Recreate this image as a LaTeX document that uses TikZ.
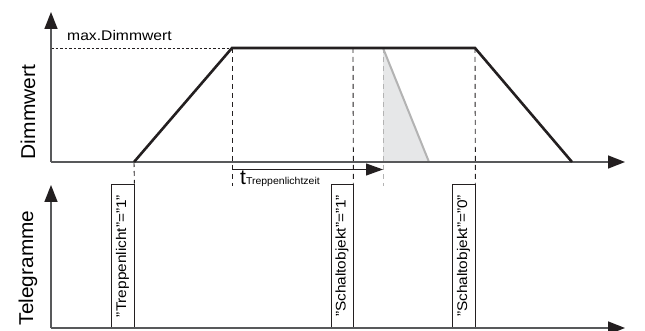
\documentclass[tikz,border=0pt]{standalone}
\usepackage{fontspec}
\setmainfont{Liberation Sans}
\usetikzlibrary{arrows.meta}
\definecolor{axisgray}{HTML}{58595B}
\definecolor{inkblack}{HTML}{231F20}
\definecolor{lightfill}{HTML}{E6E7E8}
\definecolor{midgray}{HTML}{B3B3B3}
\tikzset{
  axisline/.style={draw=axisgray, line width=1.6pt},
  axishead/.style={-{Triangle[length=17pt,width=13pt,color=inkblack,fill=inkblack]}},
  curve/.style={draw=inkblack, line width=2.6pt, line join=miter},
  vdash/.style={draw=inkblack, line width=0.9pt, dash pattern=on 5pt off 4pt},
  hdash/.style={draw=inkblack, line width=0.8pt, dash pattern=on 2.5pt off 2pt},
  graydash/.style={draw=midgray, line width=0.9pt, dash pattern=on 5pt off 4pt},
  telebox/.style={draw=inkblack, line width=0.8pt, rotate=90, minimum width=144pt,
    inner sep=0pt, font=\fontsize{14}{14}\selectfont},
  axislabel/.style={rotate=90, inner sep=0pt, font=\fontsize{20}{20}\selectfont}
}
\begin{document}
\begin{tikzpicture}[x=1pt,y=-1pt]
\useasboundingbox (0,0) rectangle (645,331);
% coordinates
\coordinate (O1) at (51,162);
\coordinate (Y1) at (51,12);
\coordinate (X1) at (625,162);
\coordinate (O2) at (51,328);
\coordinate (Y2) at (51,185);
\coordinate (X2) at (625,328);
\coordinate (M) at (51,48);
\coordinate (A) at (134,162);
\coordinate (B) at (232,48);
\coordinate (Bb) at (232,186);
\coordinate (S1) at (353,48);
\coordinate (C) at (475,48);
\coordinate (D) at (572,162);
\coordinate (G1) at (383,48);
\coordinate (G2) at (429,162);
\coordinate (G3) at (383,162);
\coordinate (Gb) at (383,186);
\coordinate (T0) at (232,169.5);
\coordinate (T1) at (383,169.5);

% gray triangle
\fill[lightfill] (G1) -- (G2) -- (G3) -- cycle;
\draw[midgray, line width=2pt] (G1) -- (G2);

% telegram boxes
\node[telebox, minimum height=23pt] (tb1) at (122.5,256) {\scalebox{1.1}[1]{"Treppenlicht"="1"}};
\node[telebox, minimum height=22pt] (tb2) at (342,256) {\scalebox{1.1}[1]{"Schaltobjekt"="1"}};
\node[telebox, minimum height=23pt] (tb3) at (463.5,256) {\scalebox{1.1}[1]{"Schaltobjekt"="0"}};

% dashed guides
\draw[hdash] (M) -- (B);
\draw[vdash] (A) -- (tb1.south east);
\draw[vdash] (B) -- (Bb);
\draw[vdash] (S1) -- (tb2.south east);
\draw[vdash] (C) -- (tb3.south east);
\draw[graydash] (G1) -- (Gb);

% axes
\draw[axisline, axishead] (O1) -- (Y1);
\draw[axisline, axishead] (O1) -- (X1);
\draw[axisline, axishead] (O2) -- (Y2);
\draw[axisline, axishead] (O2) -- (X2);

% dimming curve
\draw[curve] (A) -- (B) -- (C) -- (D);

% time arrow
\draw[draw=inkblack, line width=1pt, -{Triangle[length=17pt,width=12pt,color=inkblack,fill=inkblack]}] (T0) -- (T1);
\node[anchor=base west, inner sep=0pt] (tl) at (240,185)
  {\fontsize{21}{21}\selectfont t\fontsize{10}{10}\selectfont\scalebox{1.05}[1]{Treppenlichtzeit}};

% labels
\node[anchor=base west, inner sep=0pt] (maxl) at (67,41)
  {\fontsize{14}{14}\selectfont\scalebox{1.12}[1]{max.Dimmwert}};
\node[axislabel] (dl) at (28,112) {\scalebox{1.05}[1]{Dimmwert}};
\node[axislabel] (tg) at (28,268) {\scalebox{1.04}[1]{Telegramme}};
\end{tikzpicture}
\end{document}
